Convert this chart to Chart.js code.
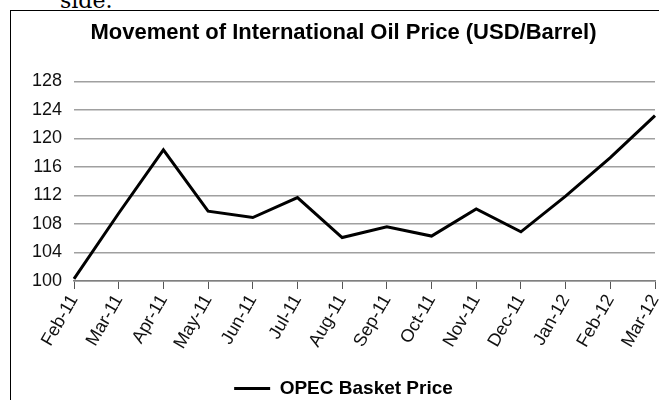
<!DOCTYPE html>
<html>
<head>
<meta charset="utf-8">
<script src="https://cdn.jsdelivr.net/npm/chart.js@4/dist/chart.umd.min.js"></script>
<style>
  html,body{margin:0;padding:0;background:#fff;overflow:hidden;}
  #page{position:relative;width:659px;height:400px;overflow:hidden;}
  #frame{position:absolute;left:10px;top:10px;width:700px;height:420px;border:1px solid #000;box-sizing:border-box;}
  #cut{position:absolute;left:60px;top:-12px;font:22px "DejaVu Serif",serif;color:#000;}
  #wrap{position:absolute;left:0;top:0;width:659px;height:408px;}
</style>
</head>
<body>
<div id="page">
  <div id="cut">side.</div>
  <div id="frame"></div>
  <div id="wrap"><canvas id="oilChart"></canvas></div>
</div>
<script>
const months=['Feb-11','Mar-11','Apr-11','May-11','Jun-11','Jul-11','Aug-11','Sep-11','Oct-11','Nov-11','Dec-11','Jan-12','Feb-12','Mar-12'];
const opecPrice=[100.3,109.5,118.4,109.8,108.9,111.7,106.1,107.6,106.3,110.1,106.9,111.9,117.3,123.2];
const yTicks={min:100,max:128,step:4};

const font='"Liberation Sans", Arial, sans-serif';
Chart.defaults.font.family=font;
Chart.defaults.color='#000';

const ctx=document.getElementById('oilChart');
new Chart(ctx,{
  type:'line',
  data:{labels:months,datasets:[{label:'OPEC Basket Price',data:opecPrice,borderColor:'#000',backgroundColor:'#000',borderWidth:3,tension:0,pointRadius:0,pointHoverRadius:0}]},
  options:{
    responsive:true,maintainAspectRatio:false,animation:false,
    layout:{padding:{left:32,right:4,top:0,bottom:0}},
    plugins:{
      title:{display:true,text:'Movement of International Oil Price (USD/Barrel)',font:{size:22,weight:'bold'},color:'#000',padding:{top:20,bottom:35}},
      legend:{position:'bottom',labels:{usePointStyle:true,pointStyle:'line',pointStyleWidth:36,boxHeight:3,padding:0,font:{size:19,weight:'bold'},color:'#000'}},
      tooltip:{enabled:false}
    },
    scales:{
      x:{offset:false,
        afterFit:s=>{s.paddingLeft=0;s.paddingRight=0;s.height=98;},
        grid:{drawOnChartArea:false,drawTicks:true,tickLength:8,color:'#555',lineWidth:1},
        border:{display:true,color:'#808080',width:1.5},
        ticks:{minRotation:60,maxRotation:60,autoSkip:false,padding:2,font:{size:18},color:'#111'}
      },
      y:{min:yTicks.min,max:yTicks.max,
        afterFit:s=>{s.width=42;},
        grid:{color:'#a0a0a0',lineWidth:1.5,drawTicks:false},
        border:{display:false},
        ticks:{stepSize:yTicks.step,padding:12,font:{size:18},color:'#111'}
      }
    }
  }
});
</script>
</body>
</html>
